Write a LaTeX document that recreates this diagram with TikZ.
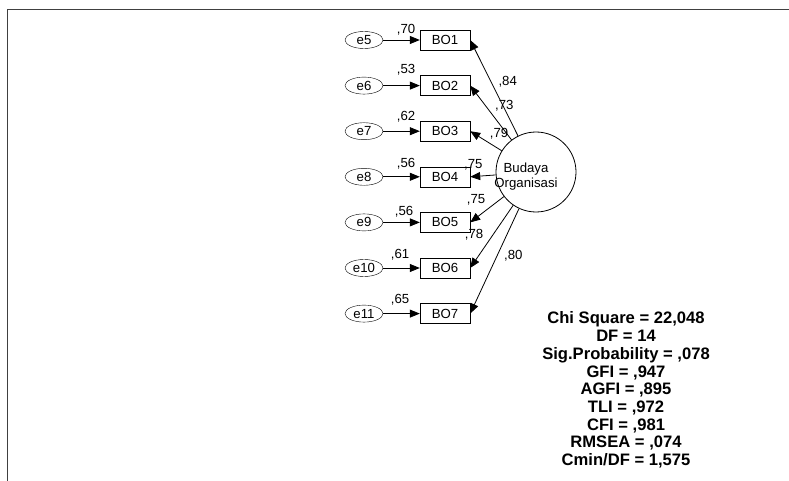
\documentclass[tikz,border=0pt]{standalone}
\usepackage{fontspec}
\setmainfont{Liberation Sans}
\usetikzlibrary{arrows.meta,shapes.geometric}
\tikzset{
  err/.style={draw, ellipse, minimum width=38pt, minimum height=17pt, inner sep=0pt, font=\fontsize{13.2}{14}\selectfont},
  ind/.style={draw, rectangle, minimum width=50pt, minimum height=20pt, inner sep=0pt, font=\fontsize{13.2}{14}\selectfont},
  lbl/.style={inner sep=0pt, font=\fontsize{13.2}{14}\selectfont},
  arr/.style={-{Triangle[length=10pt,width=8pt]}, line width=0.8pt}
}
\begin{document}
\begin{tikzpicture}[x=1pt,y=-1pt]
  \useasboundingbox (0,0) rectangle (789,481);
  \draw[line width=1.3pt, black!75] (7.5,481) -- (7.5,9.5) -- (789,9.5);
  % latent variable
  \node[draw, circle, minimum size=80pt, inner sep=0pt, line width=0.8pt] (lat) at (536,172) {};
  \node[lbl, align=center, font=\fontsize{13.2}{15}\selectfont] (latxt) at (526,176.5) {Budaya\\Organisasi};
  % indicators with their errors
  \foreach \k/\ev/\lx/\ly in {1/70/406/30, 2/53/406/70, 3/62/406/116.7, 4/56/406/164,
                              5/56/404/211.7, 6/61/400/254.3, 7/65/400/300} {
    \pgfmathsetmacro\yy{40+45.6*(\k-1)}
    \pgfmathtruncatemacro\ee{\k+4}
    \node[err] (e\ee) at (364,\yy) {e\ee};
    \node[ind] (BO\k) at (445,\yy) {BO\k};
    \draw[arr] (e\ee) -- (BO\k);
    \node[lbl] (v\k) at (\lx,\ly) {,\ev};
  }
  % loadings
  \foreach \k/\lv/\lx/\ly in {1/84/507.7/81.7, 2/73/504.3/106, 3/79/499/133.3, 4/75/473.3/165,
                              5/75/476/200, 6/78/474/235, 7/80/513.3/256} {
    \draw[arr] (lat) -- (BO\k.east);
    \node[lbl] (l\k) at (\lx,\ly) {,\lv};
  }
  % fit indices
  \node[align=center, inner sep=0pt, font=\fontsize{16.6}{17.7}\selectfont\bfseries] (fit) at (626,390)
    {Chi Square = 22,048\\DF = 14\\Sig.Probability = ,078\\GFI = ,947\\AGFI = ,895\\TLI = ,972\\CFI = ,981\\RMSEA = ,074\\Cmin/DF = 1,575};
\end{tikzpicture}
\end{document}
